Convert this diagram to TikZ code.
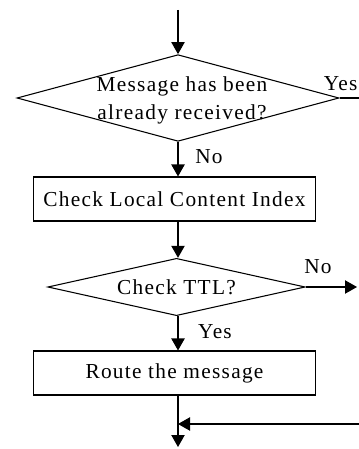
\documentclass[tikz,border=0pt]{standalone}
\usepackage{fontspec}
\setmainfont{Liberation Serif}[LetterSpace=6]
\usetikzlibrary{shapes.geometric,arrows.meta}

\begin{document}
\begin{tikzpicture}[x=0.75pt,y=-0.75pt,font=\fontsize{16}{21}\selectfont]
\tikzset{StepBox/.style={draw,rectangle,minimum width=212pt,minimum height=33pt,line width=0.8pt}}
\tikzset{Decision/.style={draw,diamond,inner sep=0pt,line width=0.8pt}}
\tikzset{Flow/.style={line width=0.8pt,-{Triangle[length=9pt,width=10pt]}}}
\clip (0,0) rectangle (359,449);
\coordinate (start) at (178,10);
\node[Decision,minimum width=241.5pt,minimum height=65pt,
  label={[align=center,yshift=-2pt,xshift=3pt]center:Message has been\\already received?}] (received) at (178,98) {};
\node[StepBox] (index) at (174.5,199) {Check Local Content Index};
\node[Decision,minimum width=193pt,minimum height=43pt,
  label={center:Check TTL?}] (ttl) at (176.5,287) {};
\node[StepBox] (route) at (174.5,373) {Route the message};
\coordinate (yesout) at (359,98);
\coordinate (noout) at (357,287);
\coordinate (back) at (359,424);
\coordinate (join) at (178,424);
\coordinate (finish) at (178,447);
\draw[Flow] (start) -- (received.north);
\draw[line width=0.8pt] (received.east) -- (yesout);
\draw[Flow] (received.south) -- (received.south |- index.north);
\draw[Flow] (received.south |- index.south) -- (ttl.north -| received.south);
\draw[Flow] (ttl.east) -- (noout);
\draw[Flow] (ttl.south -| received.south) -- (received.south |- route.north);
\draw[Flow] (received.south |- route.south) -- (finish);
\draw[Flow] (back) -- (join);
\node[anchor=south east,inner xsep=1pt] (yes1) at (359,95) {Yes};
\node (no1) at (209,157) {No};
\node (no2) at (318,267) {No};
\node (yes2) at (215,332) {Yes};
\end{tikzpicture}
\end{document}
